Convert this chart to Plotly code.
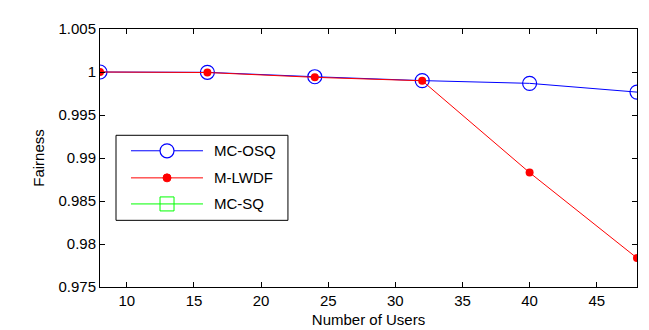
import plotly.graph_objects as go

# ---- data ----
users = [8, 16, 24, 32, 40, 48]
mc_osq = [1.0, 0.99996, 0.99945, 0.99900, 0.99868, 0.99766]
m_lwdf = [1.0, 0.99994, 0.99938, 0.99898, 0.98830, 0.97837]
mc_sq_x = []
mc_sq_y = []
series_names = ["MC-OSQ", "M-LWDF", "MC-SQ"]
x_ticks = [10, 15, 20, 25, 30, 35, 40, 45]
y_ticks = [0.975, 0.98, 0.985, 0.99, 0.995, 1.0, 1.005]
y_tick_labels = ["0.975", "0.98", "0.985", "0.99", "0.995", "1", "1.005"]

FONT = "Liberation Sans, Arial, sans-serif"
BLUE = "#0000ff"
RED = "#ff0000"
GREEN = "#00ff00"

fig = go.Figure()
fig.add_trace(go.Scatter(x=users, y=mc_osq, name=series_names[0], mode="lines+markers",
                         line=dict(color=BLUE, width=1),
                         marker=dict(symbol="circle-open", size=14, color=BLUE, line=dict(width=1.2, color=BLUE)),
                         showlegend=False))
fig.add_trace(go.Scatter(x=users, y=m_lwdf, name=series_names[1], mode="lines+markers",
                         line=dict(color=RED, width=1),
                         marker=dict(symbol="circle", size=8, color=RED),
                         showlegend=False))
fig.add_trace(go.Scatter(x=mc_sq_x, y=mc_sq_y, name=series_names[2], mode="lines+markers",
                         line=dict(color=GREEN, width=1),
                         marker=dict(symbol="square-open", size=14, color=GREEN),
                         showlegend=False))

# ---- custom legend (MATLAB style) ----
lx0, lx1, ly0, ly1 = 0.0298, 0.350, 0.2584, 0.588
line_x0, line_x1, mark_x, text_x = 0.0577, 0.1918, 0.1248, 0.2086
rows = [0.528, 0.423, 0.322]
shapes = [dict(type="rect", xref="paper", yref="paper", x0=lx0, x1=lx1, y0=ly0, y1=ly1,
               line=dict(color="black", width=1), fillcolor="white", layer="above")]
colors = [BLUE, RED, GREEN]
annotations = []
for i, (name, c) in enumerate(zip(series_names, colors)):
    yy = rows[i]
    shapes.append(dict(type="line", xref="paper", yref="paper", x0=line_x0, x1=line_x1, y0=yy, y1=yy,
                       line=dict(color=c, width=1), layer="above"))
    common = dict(xref="paper", yref="paper", xsizemode="pixel", ysizemode="pixel",
                  xanchor=mark_x, yanchor=yy, layer="above")
    if i == 0:
        shapes.append(dict(type="circle", x0=-7, x1=7, y0=-7, y1=7, fillcolor="white",
                           line=dict(color=c, width=1.2), **common))
    elif i == 1:
        shapes.append(dict(type="circle", x0=-4, x1=4, y0=-4, y1=4, fillcolor=c,
                           line=dict(color=c, width=1), **common))
    else:
        shapes.append(dict(type="rect", x0=-7, x1=7, y0=-7, y1=7, fillcolor="rgba(0,0,0,0)",
                           line=dict(color=c, width=1), **common))
    annotations.append(dict(xref="paper", yref="paper", x=text_x, y=yy, text=name, showarrow=False,
                            xanchor="left", yanchor="middle", font=dict(family=FONT, size=15, color="black")))

fig.update_layout(
    width=649, height=330,
    margin=dict(l=92, r=20, t=16, b=47),
    paper_bgcolor="white", plot_bgcolor="white",
    font=dict(family=FONT, size=15, color="black"),
    shapes=shapes, annotations=annotations,
    showlegend=False,
)
fig.update_xaxes(range=[8, 48], tickvals=x_ticks, ticks="inside", ticklen=5, tickcolor="black",
                 showline=True, linecolor="black", linewidth=1, mirror="ticks", showgrid=False,
                 zeroline=False, title=dict(text="Number of Users", font=dict(size=15), standoff=6),
                 tickfont=dict(size=15))
fig.update_yaxes(range=[0.975, 1.005], tickvals=y_ticks, ticktext=y_tick_labels, ticks="inside",
                 ticklen=5, tickcolor="black", showline=True, linecolor="black", linewidth=1,
                 mirror="ticks", showgrid=False, zeroline=False,
                 title=dict(text="Fairness", font=dict(size=15), standoff=10), tickfont=dict(size=15))

fig.write_html("out.html")
